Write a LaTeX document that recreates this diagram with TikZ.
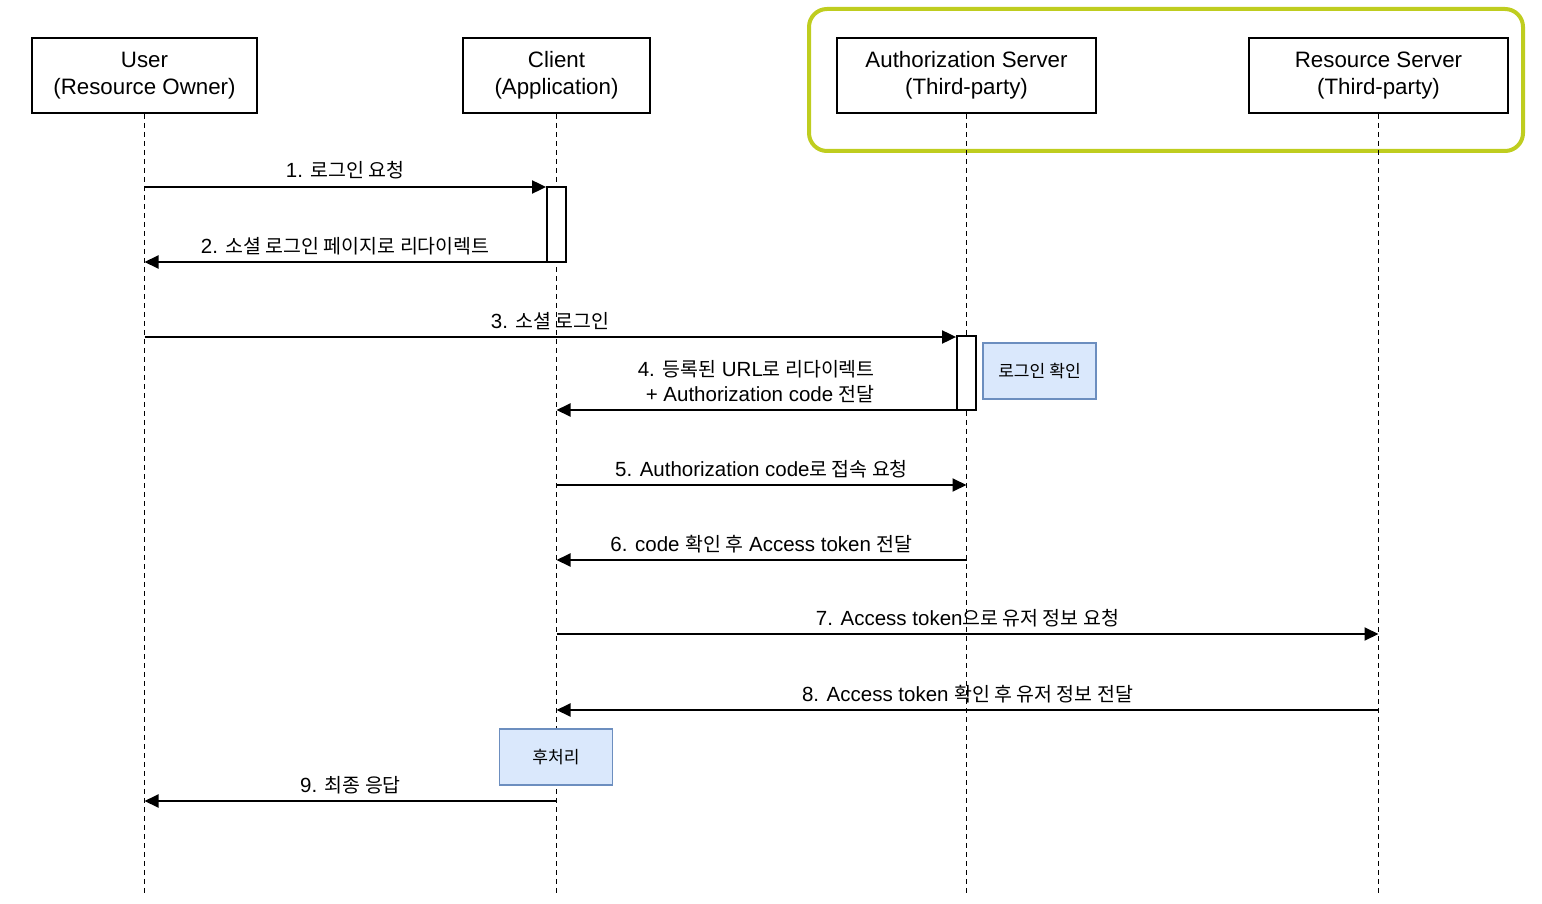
\documentclass[tikz,border=0pt]{standalone}
\usepackage{fontspec}
\setmainfont{Liberation Sans}
\newfontfamily\kr{Noto Sans CJK KR}[Scale=0.95]
\usetikzlibrary{arrows.meta}
\definecolor{grp}{RGB}{191,205,31}
\definecolor{notefill}{RGB}{218,232,252}
\definecolor{notedraw}{RGB}{108,142,191}
\tikzset{
  actor/.style={draw=black, line width=1.8pt, fill=white, minimum width=#1, minimum height=75pt,
    align=center, inner sep=0pt, font=\fontsize{22.3}{27}\selectfont},
  lifeline/.style={line width=1.8pt, dash pattern=on 5pt off 4pt},
  msg/.style={line width=1.9pt, -{Triangle[length=14pt,width=13pt]}},
  msglabel/.style={inner sep=0pt, font=\fontsize{20.5}{25}\selectfont},
  activation/.style={draw=black, line width=1.8pt, fill=white, minimum width=19pt, inner sep=0pt},
  notebox/.style={draw=notedraw, line width=1.8pt, fill=notefill, minimum width=113pt, minimum height=56pt,
    inner sep=0pt, font=\fontsize{18}{20}\selectfont},
}
\begin{document}
\begin{tikzpicture}[x=1pt,y=-1pt]
\useasboundingbox (0,0) rectangle (1542,904);
% group
\draw[grp, line width=4pt, rounded corners=18pt] (809,9) rectangle (1523,151);
% actors
\node[actor=225pt] (user) at (144.5,75.5) {User\\(Resource Owner)};
\node[actor=187pt] (client) at (556.5,75.5) {Client\\(Application)};
\node[actor=259pt] (auth) at (966.5,75.5) {Authorization Server\\(Third-party)};
\node[actor=259pt] (res) at (1378.5,75.5) {Resource Server\\(Third-party)};
% lifeline ends
\coordinate (bot) at (0,893);
\coordinate (userE) at (user.south |- bot);
\coordinate (clientE) at (client.south |- bot);
\coordinate (authE) at (auth.south |- bot);
\coordinate (resE) at (res.south |- bot);
\draw[lifeline] (user.south) -- (userE);
\draw[lifeline] (client.south) -- (clientE);
\draw[lifeline] (auth.south) -- (authE);
\draw[lifeline] (res.south) -- (resE);
% activations
\node[activation, minimum height=75pt] (act1) at (556.5,224.5) {};
\node[activation, minimum height=74pt] (act2) at (966.5,373) {};
% notes
\node[notebox] (note1) at (1039.5,371) {\kr 로그인 확인};
\node[notebox] (note2) at (556,757) {\kr 후처리};
% message rows
\coordinate (y1) at (0,187);
\coordinate (y2) at (0,262);
\coordinate (y3) at (0,337);
\coordinate (y4) at (0,410);
\coordinate (y5) at (0,485);
\coordinate (y6) at (0,560);
\coordinate (y7) at (0,634);
\coordinate (y8) at (0,710);
\coordinate (y9) at (0,801);
% 1
\draw[msg] (user.south |- y1) -- (act1.west |- y1)
  node[msglabel, midway, anchor=base, yshift=9pt] (l1) {1. {\kr 로그인 요청}};
% 2
\draw[msg] (act1.west |- y2) -- (user.south |- y2)
  node[msglabel, midway, anchor=base, yshift=9pt] (l2) {2. {\kr 소셜 로그인 페이지로 리다이렉트}};
% 3
\draw[msg] (user.south |- y3) -- (act2.west |- y3)
  node[msglabel, midway, anchor=base, yshift=9pt] (l3) {3. {\kr 소셜 로그인}};
% 4
\draw[msg] (act2.west |- y4) -- (client.south |- y4)
  node[msglabel, midway, anchor=south, align=right, yshift=6pt] (l4) {4. {\kr 등록된} URL{\kr 로 리다이렉트}\\+ Authorization code {\kr 전달}};
% 5
\draw[msg] (client.south |- y5) -- (auth.south |- y5)
  node[msglabel, midway, anchor=base, yshift=9pt] (l5) {5. Authorization code{\kr 로 접속 요청}};
% 6
\draw[msg] (auth.south |- y6) -- (client.south |- y6)
  node[msglabel, midway, anchor=base, yshift=9pt] (l6) {6. code {\kr 확인 후} Access token {\kr 전달}};
% 7
\draw[msg] (client.south |- y7) -- (res.south |- y7)
  node[msglabel, midway, anchor=base, yshift=9pt] (l7) {7. Access token{\kr 으로 유저 정보 요청}};
% 8
\draw[msg] (res.south |- y8) -- (client.south |- y8)
  node[msglabel, midway, anchor=base, yshift=9pt] (l8) {8. Access token {\kr 확인 후 유저 정보 전달}};
% 9
\draw[msg] (client.south |- y9) -- (user.south |- y9)
  node[msglabel, midway, anchor=base, yshift=9pt] (l9) {9. {\kr 최종 응답}};
\end{tikzpicture}
\end{document}
